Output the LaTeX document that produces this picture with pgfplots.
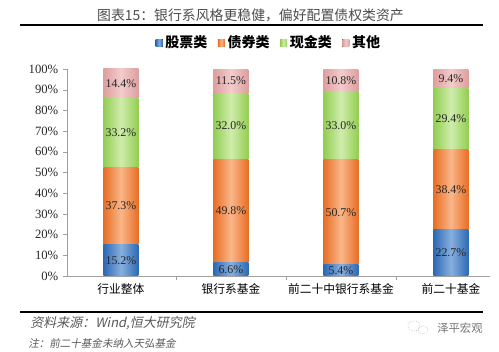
\documentclass[border=0pt]{standalone}
\usepackage{pgfplots}
\pgfplotsset{compat=1.18}
\usepackage{fontspec}
\setmainfont{Liberation Serif}
\newfontfamily\cjk{Noto Sans CJK SC}
\newfontfamily\cjkit[FakeSlant=0.2]{Noto Sans CJK SC}
\definecolor{bD}{RGB}{45,105,180}
\definecolor{bL}{RGB}{135,175,222}
\definecolor{oD}{RGB}{232,110,36}
\definecolor{oL}{RGB}{250,182,138}
\definecolor{gD}{RGB}{146,206,82}
\definecolor{gL}{RGB}{208,236,172}
\definecolor{pD}{RGB}{222,158,158}
\definecolor{pL}{RGB}{242,204,204}
\definecolor{axgray}{RGB}{160,160,160}
\pgfplotsset{
  base/.style={
    at={(50.25pt,57pt)}, anchor=south west,
    scale only axis, width=317.25pt, height=155.25pt,
    xmin=-0.49, xmax=3.355, ymin=0, ymax=100,
    /pgf/number format/assume math mode=true,
  },
  hidden/.style={base, hide axis, ybar stacked, bar width=0.318},
  sB/.style={draw=none, left color=bD, right color=bD, middle color=bL},
  sO/.style={draw=none, left color=oD, right color=oD, middle color=oL},
  sG/.style={draw=none, left color=gD, right color=gD, middle color=gL},
  sP/.style={draw=none, left color=pD, right color=pD, middle color=pL},
}
\begin{document}
\begin{tikzpicture}
% category 0 with axis, ticks and legend
\begin{axis}[
  base,
  ybar stacked, bar width=0.318,
  axis x line*=bottom, axis y line*=left,
  axis line style={draw=axgray, -},
  tick align=outside,
  xtick={0,1,2,3},
  xticklabels={行业整体,银行系基金,前二十中银行系基金,前二十基金},
  x tick label style={font=\cjk\fontsize{8.8}{10}\selectfont, yshift=1pt},
  every major x tick/.append style={draw=none},
  minor xtick={0.5,1.5,2.5},
  every minor x tick/.append style={draw=axgray},
  minor tick length=3pt,
  major tick length=3pt,
  ytick={0,10,...,100},
  yticklabel={\pgfmathprintnumber{\tick}\%},
  y tick label style={font=\fontsize{9.5}{10}\selectfont, text=black!85},
  ytick style={draw=axgray},
  legend style={at={(0.478,1.126)}, anchor=center, draw=none, fill=none,
    legend columns=4, font=\cjk\bfseries\fontsize{10.5}{12}\selectfont,
    /tikz/every even column/.append style={column sep=6pt}},
  legend image code/.code={\fill[#1] (0pt,-2.8pt) rectangle (5.2pt,2.8pt);},
]
\addplot[sB] coordinates {(0,15.2)};
\addplot[sO] coordinates {(0,37.3)};
\addplot[sG] coordinates {(0,33.2)};
\addplot[sP] coordinates {(0,14.4)};
\legend{股票类,债券类,现金类,其他}
\end{axis}
% category 1
\begin{axis}[hidden]
\addplot[sB] coordinates {(1,6.6)};
\addplot[sO] coordinates {(1,49.8)};
\addplot[sG] coordinates {(1,32.0)};
\addplot[sP] coordinates {(1,11.5)};
\end{axis}
% category 2
\begin{axis}[hidden]
\addplot[sB] coordinates {(2,5.4)};
\addplot[sO] coordinates {(2,50.7)};
\addplot[sG] coordinates {(2,33.0)};
\addplot[sP] coordinates {(2,10.8)};
\end{axis}
% category 3
\begin{axis}[hidden]
\addplot[sB] coordinates {(3,22.7)};
\addplot[sO] coordinates {(3,38.4)};
\addplot[sG] coordinates {(3,29.4)};
\addplot[sP] coordinates {(3,9.4)};
\end{axis}
% value labels at segment centres
\begin{axis}[base, hide axis]
\addplot[draw=none, mark=none,
  point meta=explicit, nodes near coords={\pgfmathprintnumber[fixed,precision=1,fixed zerofill]{\pgfplotspointmeta}\%},
  every node near coord/.append style={anchor=center, font=\fontsize{8.9}{10}\selectfont, text=black!85, inner sep=0pt}]
  table[meta=v] {
x y v
0 7.6 15.2
0 33.85 37.3
0 69.1 33.2
0 92.9 14.4
1 3.3 6.6
1 31.5 49.8
1 72.4 32.0
1 94.15 11.5
2 2.7 5.4
2 30.75 50.7
2 72.6 33.0
2 94.5 10.8
3 11.35 22.7
3 41.9 38.4
3 75.8 29.4
3 95.2 9.4
};
\end{axis}
\begin{scope}[x=0.75pt,y=-0.75pt,yshift=264pt]
\node[font=\cjk\fontsize{10.4}{12}\selectfont, text=black!70] at (250.5,15) {图表15：银行系风格更稳健，偏好配置债权类资产};
\draw[line width=1.5pt] (20,25) -- (483,25);
\draw[line width=1.5pt] (20,312.5) -- (483,312.5);
\node[anchor=west, font=\cjkit\fontsize{9.75}{11}\selectfont, text=black!65, inner sep=0pt] at (30,323) {资料来源：Wind,恒大研究院};
\node[anchor=west, font=\cjkit\fontsize{7.9}{9}\selectfont, text=black!65, inner sep=0pt] at (28,343) {注：前二十基金未纳入天弘基金};
\node[anchor=west, font=\cjk\fontsize{8.5}{10}\selectfont, text=black!55, inner sep=0pt] at (437,328) {泽平宏观};
\draw[black!35, densely dotted] (414,326) ellipse (6 and 5);
\draw[black!35, densely dotted] (423,330) ellipse (5 and 4);
\end{scope}
\pgfresetboundingbox
\path[use as bounding box] (0,0) rectangle (374.25pt,264pt);
\end{tikzpicture}
\end{document}
